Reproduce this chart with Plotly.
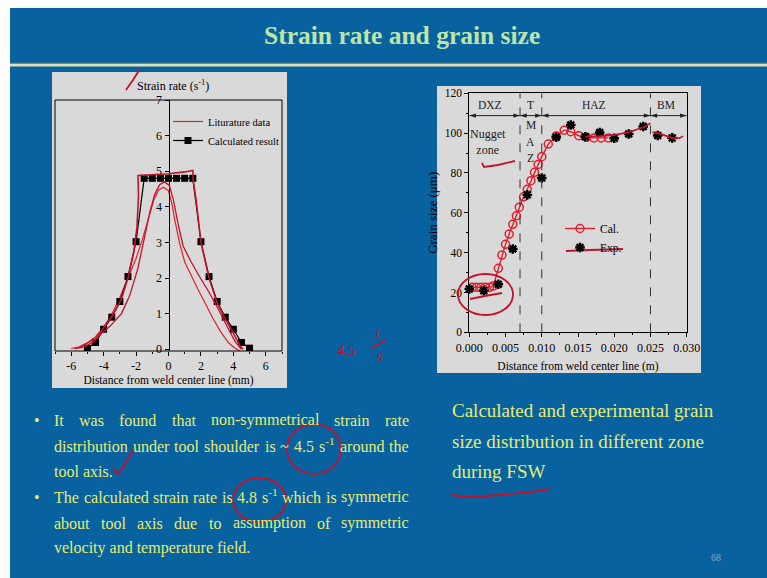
import re
import plotly.graph_objects as go

W, H = 767, 578
BLUE = "#0962A0"
PANEL = "#D9D9D9"
SERIF = "Liberation Serif"
INK = "#C3122C"
TITLE_GREEN = "#BDE5A8"
BODY_YELLOW = "#E4EC74"

# ---- strain-rate profile across the weld (mm, 1/s) ----
CALC_X = [-5, -4.5, -4, -3.5, -3, -2.5, -2, -1.5, -1, -0.5, 0, 0.5, 1, 1.5, 2, 2.5, 3, 3.5, 4, 4.5, 5]
CALC_Y = [0.03, 0.19, 0.56, 0.9, 1.34, 2.04, 3.02, 4.8, 4.8, 4.8, 4.8, 4.8, 4.8, 4.8,
          3.02, 2.04, 1.34, 0.9, 0.56, 0.19, 0.03]
LIT_X = [-6.0, -5.5, -5.0, -4.5, -4.0, -3.5, -3.0, -2.5, -2.0, -1.6, -1.2, -0.9, -0.6, -0.3,
         0.0, 0.2, 0.4, 0.7, 1.0, 1.4, 1.8, 2.2, 2.7, 3.2, 3.7, 4.1, 4.4]
LIT_Y = [0.02, 0.07, 0.18, 0.35, 0.62, 0.98, 1.45, 1.98, 2.55, 3.1, 3.75, 4.2, 4.48, 4.55,
         4.45, 4.1, 3.6, 2.95, 2.45, 2.05, 1.7, 1.35, 0.9, 0.5, 0.18, 0.03, -0.05]

# pen strokes traced over the strain-rate curves
PEN_PEAK = [(-5.5, 0.05), (-4.5, 0.3), (-3.6, 0.65), (-2.9, 1.0), (-2.4, 1.5), (-1.9, 2.25),
            (-1.5, 3.1), (-1.15, 3.85), (-0.85, 4.35), (-0.55, 4.62), (-0.25, 4.7), (0.05, 4.6),
            (0.3, 4.2), (0.6, 3.5), (0.9, 2.9), (1.4, 2.45), (1.9, 2.05), (2.5, 1.6), (3.1, 1.1),
            (3.6, 0.65), (4.1, 0.22), (4.5, 0.0)]
PEN_TOP = [(-5.8, 0.02), (-5.2, 0.06), (-4.6, 0.22), (-4.0, 0.6), (-3.4, 0.98), (-2.9, 1.42),
           (-2.5, 2.0), (-2.15, 2.7), (-1.95, 3.4), (-1.85, 4.3), (-1.88, 4.88), (-1.0, 4.9),
           (0.0, 4.93), (1.0, 4.98), (1.5, 5.02), (1.52, 4.75), (1.7, 4.2), (2.0, 3.0),
           (2.5, 2.0), (3.0, 1.3), (3.5, 0.85), (4.0, 0.45), (4.4, 0.1), (4.6, 0.0)]

# ---- grain size across the weld (m, micrometre) ----
CAL_X = [0.0004, 0.0010, 0.0016, 0.0022, 0.0028, 0.0033, 0.0040, 0.0045, 0.0050, 0.0055,
         0.0060, 0.0065, 0.0069, 0.0075, 0.0080, 0.0085, 0.0090, 0.0095, 0.0100, 0.0109,
         0.0120, 0.0131, 0.0140, 0.0151, 0.0162, 0.0172, 0.0182, 0.0192]
CAL_Y = [22.6, 22.6, 22.6, 22.6, 22.6, 23.2, 32.1, 38.8, 44.2, 49.3, 54.2, 58.5, 62.8, 68.0,
         71.8, 76.1, 80.3, 84.3, 88.2, 94.5, 98.6, 101.5, 100.7, 98.7, 97.9, 97.6, 97.6, 97.6]
EXP_X = [0.000, 0.002, 0.004, 0.006, 0.008, 0.010, 0.012, 0.014, 0.016, 0.018, 0.020,
         0.022, 0.024, 0.026, 0.028]
EXP_Y = [21.8, 20.9, 24.1, 41.8, 69.0, 77.5, 97.9, 104.1, 98.2, 100.3, 97.4, 99.6, 103.3,
         98.8, 97.6]
ZONE_EDGES = [0.0, 0.007, 0.010, 0.025, 0.030]
ZONE_NAMES = ["DXZ", "T", "HAZ", "BM"]
ZONE_LABEL_X = [0.0029, 0.0085, 0.0172, 0.0272]
TMAZ_LETTERS = ["M", "A", "Z"]
TMAZ_Y = [104.1, 95.7, 87.3]
PEN_HAZ = [(0.016, 98.2), (0.018, 98.5), (0.020, 99.0), (0.022, 100.5), (0.024, 103.0), (0.025, 105.0)]
PEN_BM = [(0.0253, 100.5), (0.0265, 99.5), (0.028, 97.5), (0.029, 97.5), (0.0295, 98.5)]

TITLE = "Strain rate and grain size"
BULLETS = [
    ("It was found that non-symmetrical strain rate", True, True),
    ("distribution under tool shoulder is ~ 4.5 s<sup>-1</sup> around the", True, False),
    ("tool axis.", False, False),
    ("The calculated strain rate is 4.8 s<sup>-1</sup> which is symmetric", True, True),
    ("about tool axis due to assumption of symmetric", True, False),
    ("velocity and temperature field.", False, False),
]
CAPTION = ["Calculated and experimental grain", "size distribution in different zone", "during FSW"]


def fx(px):
    return px / W


def fy(py):
    return 1 - py / H


# Times/Liberation Serif advance widths (em) for laying out justified lines
TW = dict(zip("abcdefghijklmnopqrstuvwxyz",
              [.444, .5, .444, .5, .444, .333, .5, .5, .278, .278, .5, .278, .778, .5, .5, .5, .5,
               .333, .389, .278, .5, .5, .722, .5, .5, .444]))
TW.update(dict(zip("ABCDEFGHIJKLMNOPQRSTUVWXYZ",
                   [.722, .667, .667, .722, .611, .556, .722, .722, .333, .389, .722, .611, .889,
                    .722, .722, .556, .722, .667, .556, .611, .722, .722, .944, .722, .722, .611])))
TW.update({" ": .25, ".": .25, ",": .25, "-": .333, "~": .541, "0": .5, "1": .5, "4": .5,
           "5": .5, "8": .5, "(": .333, ")": .333})


def em_width(word):
    total, scale = 0.0, 1.0
    for part in re.split(r"(<sup>|</sup>)", word):
        if part == "<sup>":
            scale = 0.7
        elif part == "</sup>":
            scale = 1.0
        else:
            total += sum(TW.get(c, 0.5) for c in part) * scale
    return total


def note(px, py, text, size, color, xanchor="center", yanchor="middle"):
    return dict(x=fx(px), y=fy(py), xref="paper", yref="paper", text=text, showarrow=False,
                xanchor=xanchor, yanchor=yanchor, borderpad=0,
                font=dict(family=SERIF, size=size, color=color))


fig = go.Figure()

# strain-rate chart
fig.add_trace(go.Scatter(x=LIT_X, y=LIT_Y, mode="lines", name="Liturature data",
                         line=dict(color="#E0202C", width=1.2), legend="legend",
                         xaxis="x", yaxis="y"))
fig.add_trace(go.Scatter(x=CALC_X, y=CALC_Y, mode="lines+markers", name="Calculated result",
                         line=dict(color="black", width=1.2),
                         marker=dict(symbol="square", size=7, color="black"),
                         legend="legend", xaxis="x", yaxis="y"))

# grain-size chart
fig.add_trace(go.Scatter(x=CAL_X, y=CAL_Y, mode="lines+markers", name="Cal.",
                         line=dict(color="#E0202C", width=1.4),
                         marker=dict(symbol="circle-open", size=8, color="#E0202C",
                                     line=dict(width=1.5)),
                         legend="legend2", xaxis="x2", yaxis="y2"))
fig.add_trace(go.Scatter(x=EXP_X, y=EXP_Y, mode="markers", name="Exp.",
                         marker=dict(symbol="asterisk-open", size=8, color="black",
                                     line=dict(width=2.4, color="black")),
                         cliponaxis=False, legend="legend2", xaxis="x2", yaxis="y2"))

# double-headed arrows spanning each weld zone
ARROW_Y = 108.8
for a, b in zip(ZONE_EDGES[:-1], ZONE_EDGES[1:]):
    fig.add_trace(go.Scatter(x=[a, b], y=[ARROW_Y, ARROW_Y], mode="lines+markers",
                             line=dict(color="#222222", width=1),
                             marker=dict(symbol="arrow", size=7, angle=[-90, 90], color="#222222"),
                             showlegend=False, hoverinfo="skip", cliponaxis=False,
                             xaxis="x2", yaxis="y2"))

shapes = []
# white slide edge, panels and title rule
shapes.append(dict(type="rect", xref="paper", yref="paper", x0=0, x1=fx(10), y0=0, y1=1,
                   fillcolor="white", line_width=0, layer="below"))
shapes.append(dict(type="rect", xref="paper", yref="paper", x0=0, x1=1, y0=fy(8), y1=1,
                   fillcolor="white", line_width=0, layer="below"))
shapes.append(dict(type="rect", xref="paper", yref="paper", x0=fx(10), x1=1, y0=fy(64), y1=fy(62.8),
                   fillcolor="#7F8B50", line_width=0, layer="below"))
shapes.append(dict(type="rect", xref="paper", yref="paper", x0=fx(10), x1=1, y0=fy(66.5), y1=fy(64),
                   fillcolor="#DDE2BA", line_width=0, layer="below"))
shapes.append(dict(type="rect", xref="paper", yref="paper", x0=fx(52), x1=fx(287), y0=fy(388), y1=fy(72),
                   fillcolor=PANEL, line_width=0, layer="below"))
shapes.append(dict(type="rect", xref="paper", yref="paper", x0=fx(437), x1=fx(701), y0=fy(373), y1=fy(86),
                   fillcolor=PANEL, line_width=0, layer="below"))
# frame of the strain-rate plot
shapes.append(dict(type="rect", xref="x domain", yref="y domain", x0=0, x1=1, y0=0, y1=1,
                   line=dict(color="black", width=1)))
# zone boundaries
for edge in ZONE_EDGES[1:-1]:
    shapes.append(dict(type="line", xref="x2", yref="y2 domain", x0=edge, x1=edge, y0=0, y1=1,
                       line=dict(color="#333333", width=1, dash="dash")))


def pen_path(points, xref, yref, width=1.8):
    d = "M " + " L ".join(f"{x},{y}" for x, y in points)
    return dict(type="path", xref=xref, yref=yref, path=d,
                line=dict(color=INK, width=width))


def pen_px(points, width=1.8):
    return pen_path([(fx(x), fy(y)) for x, y in points], "paper", "paper", width)


shapes.append(pen_path(PEN_PEAK, "x", "y", 1.3))
shapes.append(pen_path(PEN_TOP, "x", "y", 1.6))
shapes.append(pen_path(PEN_HAZ, "x2", "y2", 1.6))
shapes.append(pen_path(PEN_BM, "x2", "y2", 1.6))
shapes.append(pen_px([(126, 90), (133, 80), (140, 69)]))
shapes.append(pen_px([(113, 468), (118, 474), (124, 466), (133, 450)]))
shapes.append(pen_px([(451, 495), (470, 497), (500, 495), (530, 492), (550, 489)]))
shapes.append(pen_px([(482, 163), (484, 167), (498, 165), (515, 161)]))
shapes.append(pen_px([(470, 299), (485, 296), (502, 293)]))
shapes.append(pen_px([(566, 251), (590, 250), (623, 249)]))
shapes.append(pen_px([(371, 348), (386, 340)], 1.5))
for x0, x1, y0, y1 in [(287, 341, 424, 474), (233, 286, 478, 522), (458, 513, 274, 315)]:
    shapes.append(dict(type="circle", xref="paper", yref="paper", x0=fx(x0), x1=fx(x1),
                       y0=fy(y1), y1=fy(y0), line=dict(color=INK, width=1.8)))

ann = []
ann.append(note(402, 36, f"<b>{TITLE}</b>", 25.5, TITLE_GREEN))
ann.append(note(173, 85, "Strain rate (s<sup>-1</sup>)", 12, "black"))

# bullet text, justified between two margins; words sit on a shared baseline
FS = 16
LEFT, RIGHT = 53, 408
LINE_Y = [421, 446.5, 472, 498, 523.5, 549]
DROP = 9
for (line, justify, bullet), ly in zip(BULLETS, LINE_Y):
    if bullet:
        ann.append(note(37, ly + DROP, "•", FS, BODY_YELLOW, yanchor="bottom"))
    if not justify:
        ann.append(note(LEFT, ly + DROP, line, FS, BODY_YELLOW, xanchor="left", yanchor="bottom"))
        continue
    words = line.split(" ")
    widths = [em_width(w) * FS for w in words]
    gap = (RIGHT - LEFT - sum(widths)) / (len(words) - 1)
    pos = LEFT
    for w, wd in zip(words, widths):
        ann.append(note(pos, ly + DROP, w, FS, BODY_YELLOW, xanchor="left", yanchor="bottom"))
        pos += wd + gap

for txt, ly in zip(CAPTION, [410, 441, 471]):
    ann.append(note(451, ly, txt, 19, BODY_YELLOW, xanchor="left"))

ann.append(note(716, 557, "68", 10, "#8DA6BF"))

# handwritten note between the charts
ann.append(note(346, 350, "<i>4.5</i>", 15, INK))
ann.append(note(377, 333, "<i>1</i>", 13, INK))
ann.append(note(380, 356, "<i>s</i>", 15, INK))

# zone labels on the grain-size chart
zone_font = dict(family=SERIF, size=11.5, color="#222222")
for name, lx in zip(ZONE_NAMES, ZONE_LABEL_X):
    ann.append(dict(x=lx, y=114, xref="x2", yref="y2", text=name, showarrow=False,
                    xanchor="center", yanchor="middle", font=zone_font))
for letter, ly in zip(TMAZ_LETTERS, TMAZ_Y):
    ann.append(dict(x=ZONE_LABEL_X[1], y=ly, xref="x2", yref="y2", text=letter, showarrow=False,
                    xanchor="center", yanchor="middle", font=zone_font))
ann.append(dict(x=0.0026, y=95.5, xref="x2", yref="y2", text="Nugget<br>zone", showarrow=False,
                xanchor="center", yanchor="middle",
                font=dict(family=SERIF, size=12, color="#222222")))

axis_font = dict(family=SERIF, size=12, color="black")
title_font = dict(family=SERIF, size=11.5, color="black")

fig.update_layout(
    width=W, height=H, margin=dict(l=0, r=0, t=0, b=0),
    paper_bgcolor=BLUE, plot_bgcolor=PANEL,
    shapes=shapes, annotations=ann,
    xaxis=dict(domain=[fx(55), fx(282)], range=[-7, 7], anchor="y",
               tickvals=[-6, -4, -2, 0, 2, 4, 6], ticktext=["-6", "-4", "-2", "0", "2", "4", "6"],
               ticks="outside", ticklen=4, tickcolor="black", showline=False, showgrid=False,
               zeroline=False, tickfont=axis_font, automargin=False,
               minor=dict(dtick=1, ticks="outside", ticklen=2, tickcolor="black"),
               title=dict(text="Distance from weld center line (mm)", font=title_font, standoff=3)),
    yaxis=dict(domain=[fy(351), fy(100)], range=[-0.05, 7], anchor="free",
               position=(fx(55) + fx(282)) / 2, dtick=1, ticks="outside", ticklen=4,
               tickcolor="black", showline=True, linecolor="black", linewidth=1,
               showgrid=False, zeroline=False, tickfont=axis_font, automargin=False),
    xaxis2=dict(domain=[fx(469.3), fx(686.7)], range=[0, 0.03], anchor="y2", dtick=0.005,
                tickformat=".3f", ticks="outside", ticklen=4, tickcolor="black",
                showline=True, mirror=True, linecolor="black", linewidth=1, showgrid=False,
                zeroline=False, tickfont=axis_font, automargin=False,
                minor=dict(dtick=0.0025, ticks="outside", ticklen=2, tickcolor="black"),
                title=dict(text="Distance from weld center line (m)",
                           font=dict(family=SERIF, size=11.5, color="black"), standoff=8)),
    yaxis2=dict(domain=[fy(332.3), fy(93.3)], range=[0, 120], anchor="x2", dtick=20,
                ticks="outside", ticklen=4, tickcolor="black", showline=True, mirror=True,
                linecolor="black", linewidth=1, showgrid=False, zeroline=False,
                tickfont=dict(family=SERIF, size=11.5, color="black"), automargin=False,
                minor=dict(dtick=10, ticks="outside", ticklen=2, tickcolor="black"),
                title=dict(text="Grain size (μm)", font=dict(family=SERIF, size=13, color="black"),
                           standoff=4)),
    legend=dict(x=fx(168), y=fy(107), xanchor="left", yanchor="top", bgcolor="rgba(0,0,0,0)",
                font=dict(family=SERIF, size=10.5, color="black"), tracegroupgap=0),
    legend2=dict(x=fx(560), y=fy(214), xanchor="left", yanchor="top", bgcolor="rgba(0,0,0,0)",
                 font=dict(family=SERIF, size=11.5, color="black"), tracegroupgap=0),
)

fig.write_html("out.html")
